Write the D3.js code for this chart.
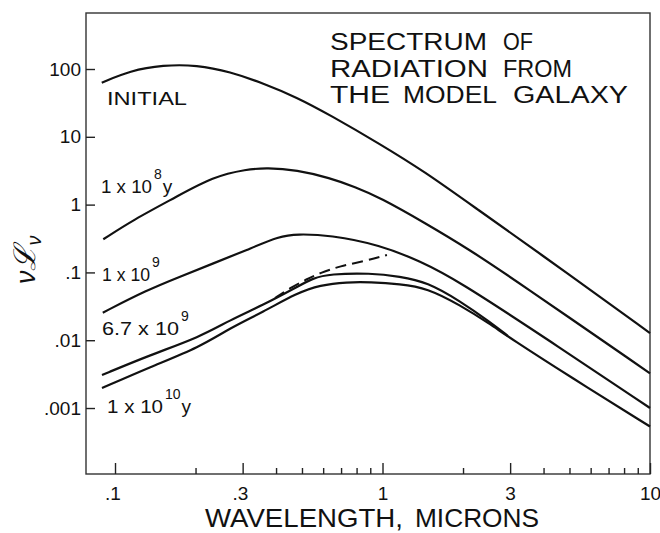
<!DOCTYPE html>
<html>
<head>
<meta charset="utf-8">
<script src="https://cdn.jsdelivr.net/npm/d3@7"></script>
<style>
body { margin: 0; background: #fff; }
text { font-family: "Liberation Sans", Arial, sans-serif; fill: #111; }
</style>
</head>
<body>
<svg width="660" height="533"></svg>
<script>
// wavelength (microns) and nu*L_nu
const initialWl = [0.0892, 0.1138, 0.1515, 0.2020, 0.2692, 0.3584, 0.4778, 0.6364, 0.9788, 1.442, 2.124, 5.022, 10]
const initialVal = [62.8, 94.4, 114.6, 114.6, 91.2, 61.5, 38.3, 21.0, 7.83, 3.03, 1.02, 0.0916, 0.01276]

const e8Wl = [0.0904, 0.1168, 0.1701, 0.2325, 0.3107, 0.3691, 0.4778, 0.6364, 0.7893, 0.9788, 1.442, 2.124, 3.128, 10]
const e8Val = [0.308, 0.593, 1.309, 2.58, 3.32, 3.50, 3.24, 2.47, 1.82, 1.27, 0.536, 0.214, 0.0773, 0.00325]

const e9Wl = [0.0900, 0.1317, 0.175, 0.2331, 0.3107, 0.414, 0.4778, 0.6364, 0.9788, 1.380, 1.899, 4.228, 10]
const e9Val = [0.0255, 0.0550, 0.0865, 0.136, 0.214, 0.344, 0.368, 0.356, 0.254, 0.147, 0.0773, 0.00973, 0.001]

const e67Wl = [0.0894, 0.1352, 0.2078, 0.2692, 0.3575, 0.4791, 0.5497, 0.6364, 0.8981, 1.163, 1.467, 1.949, 2.523, 2.946]
const e67Val = [0.00307, 0.00605, 0.01114, 0.01986, 0.0330, 0.0610, 0.0826, 0.0947, 0.0980, 0.0871, 0.0721, 0.0379, 0.0185, 0.01153]

const e10Wl = [0.0894, 0.1352, 0.2078, 0.2692, 0.3575, 0.4791, 0.5841, 0.7368, 0.8981, 1.163, 1.467, 1.949, 2.523, 2.997, 5.022, 10]
const e10Val = [0.00197, 0.00403, 0.00794, 0.01514, 0.0261, 0.0497, 0.0652, 0.0721, 0.0721, 0.0675, 0.0589, 0.0330, 0.01734, 0.01077, 0.0029, 0.000533]

const dashWl = [0.3964, 0.451, 0.522, 0.584, 0.6937, 0.8603, 1.039]
const dashVal = [0.0419, 0.0589, 0.080, 0.098, 0.124, 0.147, 0.181]

const xMajor = [0.1, 0.3, 1, 3, 10]
const xMinor = [0.2, 0.4, 0.5, 0.6, 0.7, 0.8, 0.9, 2, 4, 5, 6, 7, 8, 9]
const yTicks = [0.001, 0.01, 0.1, 1, 10, 100]

const svg = d3.select("svg")
const plotLeft = 86, plotRight = 650, plotTop = 13, plotBottom = 474

const x = d3.scaleLog().domain([0.0779, 10]).range([plotLeft, plotRight])
const y = d3.scaleLog().domain([1.064e-4, 670]).range([plotBottom, plotTop])

const fmt = d => d >= 1 ? String(d) : String(d).replace("0.", ".")

// frame
svg.append("rect")
    .attr("x", plotLeft).attr("y", plotTop)
    .attr("width", plotRight - plotLeft).attr("height", plotBottom - plotTop)
    .attr("fill", "none").attr("stroke", "#333").attr("stroke-width", 1.4)

// x axis, ticks pointing inward
const xAxis = svg.append("g")
    .attr("transform", "translate(0," + plotBottom + ")")
    .call(d3.axisBottom(x)
        .tickValues(xMajor.concat(xMinor))
        .tickSize(-6)
        .tickPadding(13)
        .tickFormat(d => xMajor.includes(d) ? fmt(d) : ""))
xAxis.select(".domain").remove()
xAxis.selectAll(".tick line")
    .attr("stroke", "#222").attr("stroke-width", 1.4)
    .attr("y2", d => xMajor.includes(d) ? -11 : -6)
xAxis.selectAll(".tick text")
    .attr("font-size", 19).attr("font-family", "Liberation Sans, Arial, sans-serif")
    .attr("fill", "#111")
    .attr("dx", d => d < 1 ? "-0.14em" : 0)

// y axis
const yAxis = svg.append("g")
    .attr("transform", "translate(" + plotLeft + ",0)")
    .call(d3.axisLeft(y)
        .tickValues(yTicks)
        .tickSize(-9)
        .tickPadding(5)
        .tickFormat(fmt))
yAxis.select(".domain").remove()
yAxis.selectAll(".tick line").attr("stroke", "#222").attr("stroke-width", 1.4)
yAxis.selectAll(".tick text")
    .attr("font-size", 19).attr("font-family", "Liberation Sans, Arial, sans-serif")
    .attr("fill", "#111")

// curves
const line = d3.line()
    .x(d => x(d[0]))
    .y(d => y(d[1]))
    .curve(d3.curveBasis)

const series = [
    {wl: initialWl, val: initialVal},
    {wl: e8Wl, val: e8Val},
    {wl: e9Wl, val: e9Val},
    {wl: e67Wl, val: e67Val},
    {wl: e10Wl, val: e10Val}
]

svg.append("g")
    .selectAll("path")
    .data(series)
    .enter()
    .append("path")
    .attr("d", s => line(d3.zip(s.wl, s.val)))
    .attr("fill", "none")
    .attr("stroke", "#111")
    .attr("stroke-width", 2.2)

svg.append("path")
    .attr("d", line(d3.zip(dashWl, dashVal)))
    .attr("fill", "none")
    .attr("stroke", "#111")
    .attr("stroke-width", 2)
    .attr("stroke-dasharray", "11,6")

// curve labels
const labels = [
    {main: "INITIAL", x: 107, y: 105, len: 80},
    {main: "1 x 10", sup: "8", suffix: "y", x: 101, y: 193, len: 51},
    {main: "1 x 10", sup: "9", x: 102, y: 281, len: 48},
    {main: "6.7 x 10", sup: "9", x: 102, y: 335, len: 77},
    {main: "1 x 10", sup: "10", suffix: "y", x: 107, y: 413, len: 56}
]

labels.forEach(l => {
    svg.append("text")
        .attr("x", l.x).attr("y", l.y)
        .attr("font-size", 19)
        .attr("textLength", l.len).attr("lengthAdjust", "spacingAndGlyphs")
        .text(l.main)
    let cx = l.x + l.len + 2
    if (l.sup) {
        const s = svg.append("text")
            .attr("x", cx).attr("y", l.y - 14)
            .attr("font-size", 14)
            .text(l.sup)
        cx += s.node().getComputedTextLength() + 1
    }
    if (l.suffix) {
        svg.append("text")
            .attr("x", cx).attr("y", l.y)
            .attr("font-size", 19)
            .text(l.suffix)
    }
})

// title
const titleWords = [
    {t: "SPECTRUM", x: 330, y: 50, len: 157},
    {t: "OF", x: 503, y: 50, len: 30},
    {t: "RADIATION", x: 330, y: 77, len: 158},
    {t: "FROM", x: 503, y: 77, len: 69},
    {t: "THE", x: 330, y: 103, len: 60},
    {t: "MODEL", x: 403, y: 103, len: 94},
    {t: "GALAXY", x: 513, y: 103, len: 115}
]
svg.append("g")
    .selectAll("text")
    .data(titleWords)
    .enter()
    .append("text")
    .attr("x", d => d.x).attr("y", d => d.y)
    .attr("font-size", 23)
    .attr("textLength", d => d.len).attr("lengthAdjust", "spacingAndGlyphs")
    .text(d => d.t)

// axis titles
svg.append("text")
    .attr("x", 205).attr("y", 527)
    .attr("font-size", 26)
    .attr("textLength", 198).attr("lengthAdjust", "spacingAndGlyphs")
    .text("WAVELENGTH,")
svg.append("text")
    .attr("x", 415).attr("y", 527)
    .attr("font-size", 26)
    .attr("textLength", 124).attr("lengthAdjust", "spacingAndGlyphs")
    .text("MICRONS")

const yl = svg.append("text")
    .attr("transform", "translate(35,284) rotate(-90)")
    .attr("font-family", "DejaVu Serif, serif")
    .attr("font-style", "italic")
yl.append("tspan").attr("font-size", 27).text("ν")
yl.append("tspan").attr("font-size", 30).text("ℒ")
yl.append("tspan").attr("font-size", 20).attr("dy", 6).text("ν")
</script>
</body>
</html>
